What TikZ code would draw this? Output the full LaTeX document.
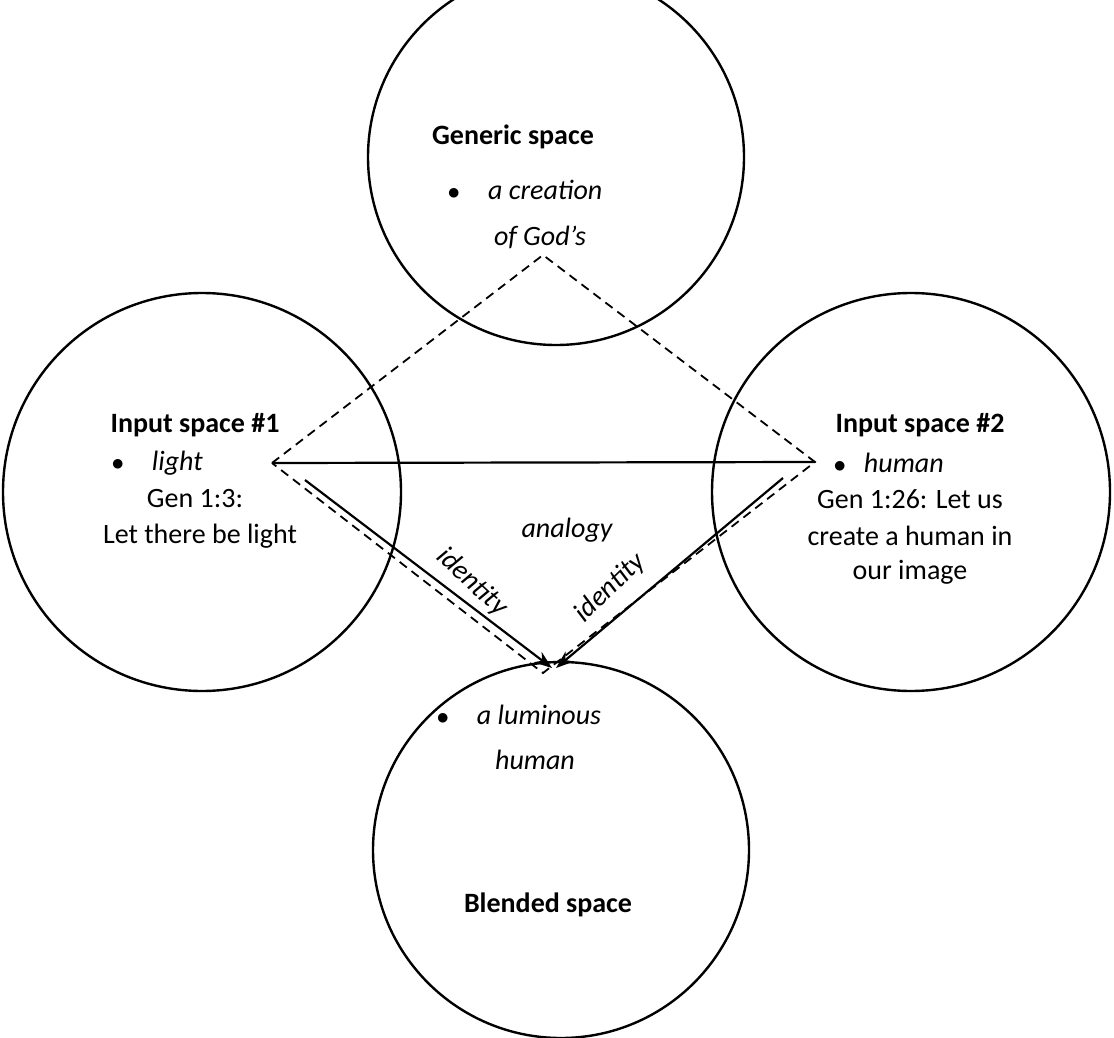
\documentclass[tikz,border=0pt]{standalone}
\usepackage{fontspec}
\setmainfont{Carlito}
\usetikzlibrary{arrows.meta}
\begin{document}
\begin{tikzpicture}[x=1pt,y=-1pt,
  sp/.style={draw,circle,line width=2.4pt,minimum size=#1,inner sep=0},
  t/.style={font=\fontsize{28}{32}\selectfont},
  tb/.style={font=\fontsize{28}{32}\selectfont\bfseries},
  ti/.style={font=\fontsize{28}{32}\selectfont\itshape},
  dsh/.style={line width=1.8pt,dash pattern=on 9pt off 6pt},
  arr/.style={line width=2.2pt,-{Stealth[length=18pt,width=13pt]}}]
\useasboundingbox (0,0) rectangle (1114,1038);
\begin{scope}
\clip (0,0) rectangle (1114,1038);
\node[sp=376pt] (gen) at (556,157) {};
\node[sp=398pt] (in1) at (202,492) {};
\node[sp=398pt] (in2) at (911,492) {};
\node[sp=376pt] (bl) at (561,850) {};
\end{scope}
\coordinate (dt) at (543,255);
\coordinate (dl) at (272,463);
\coordinate (dr) at (815,462);
\coordinate (db) at (543,673);
\draw[dsh] (dl) -- (dt) -- (dr) -- (db) -- (dl);
\draw[line width=2.2pt] (dl) -- (dr);
\coordinate (a1) at (305,480);
\coordinate (a2) at (783,478);
\coordinate (b1) at (552,668);
\coordinate (b2) at (556,668);
\draw[arr] (a1) -- (b1);
\draw[arr] (a2) -- (b2);
\node[ti] (an) at (567,530) {analogy};
\node[ti,rotate=-43] (id1) at (472,582) {identity};
\node[ti,rotate=44] (id2) at (610,588) {identity};
\node[tb] (g1) at (513,137) {Generic space};
\node[ti] (g2) at (525,190) {$\bullet$\hspace{28pt}a creation};
\node[ti] (g3) at (540,237) {of God's};
\node[tb] (i1) at (195,425) {Input space \#1};
\node[ti,anchor=west] (i2) at (108,463) {$\bullet$\hspace{28pt}light};
\node[t] (i3) at (195,499) {Gen 1:3:};
\node[t] (i4) at (200,536) {Let there be light};
\node[tb] (j1) at (920,425) {Input space \#2};
\node[ti,anchor=west] (j2) at (830,463) {$\bullet$\hspace{18pt}human};
\node[t] (j3) at (910,499) {Gen 1:26: Let us};
\node[t] (j4) at (910,536) {create a human in};
\node[t] (j5) at (910,572) {our image};
\node[ti,anchor=west] (k1) at (433,715) {$\bullet$\hspace{28pt}a luminous};
\node[ti] (k2) at (535,760) {human};
\node[tb] (k3) at (548,905) {Blended space};
\end{tikzpicture}
\end{document}
